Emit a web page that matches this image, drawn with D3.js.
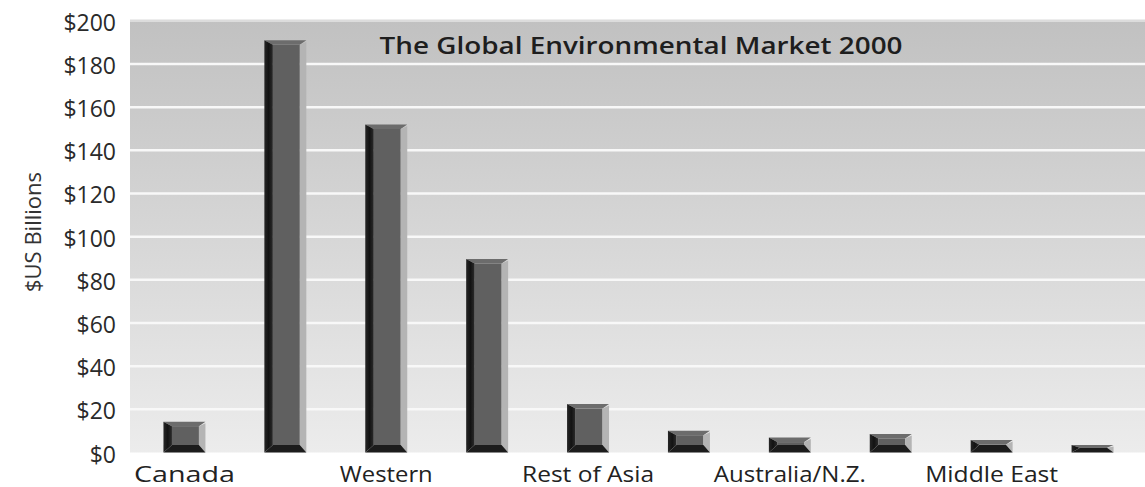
<!DOCTYPE html>
<html><head><meta charset="utf-8">
<script src="https://cdn.jsdelivr.net/npm/d3@7"></script>
<style>body{margin:0;background:#fff}svg{display:block}</style>
</head><body>
<script>
const categories = ["Canada","United States","Western Europe","Japan","Rest of Asia","Latin America","Australia/N.Z.","Eastern Europe","Middle East","Africa"];
const tickLabels = ["Canada","","Western","","Rest of Asia","","Australia/N.Z.","","Middle East",""];
const values = [14.3,191,152,89.7,22.5,10.1,6.9,8.6,5.8,3.5];
const yTicks = [0,20,40,60,80,100,120,140,160,180,200];
const title = "The Global Environmental Market 2000";
const yTitle = "$US Billions";

const W=1145,H=487;
const svg=d3.select("body").append("svg").attr("width",W).attr("height",H);
const plot={l:130,r:1145,t:20.8,b:452.5};
const x=d3.scaleBand().domain(categories).range([134,1143]).paddingInner(0.584).paddingOuter(0.292);
const y=d3.scaleLinear().domain([0,200]).range([plot.b,plot.t]);

const defs=svg.append("defs");
const g=defs.append("linearGradient").attr("id","bg").attr("x1",0).attr("y1",0).attr("x2",0).attr("y2",1);
g.append("stop").attr("offset","0%").attr("stop-color","#c1c1c1");
g.append("stop").attr("offset","100%").attr("stop-color","#ececec");
const lg=defs.append("linearGradient").attr("id","left").attr("x1",0).attr("y1",0).attr("x2",1).attr("y2",0);
lg.append("stop").attr("offset","0%").attr("stop-color","#262626");
lg.append("stop").attr("offset","50%").attr("stop-color","#121212");
lg.append("stop").attr("offset","100%").attr("stop-color","#2c2c2c");

svg.append("rect").attr("x",plot.l).attr("y",plot.t).attr("width",plot.r-plot.l).attr("height",plot.b-plot.t).attr("fill","url(#bg)");

// gridlines
svg.append("g").selectAll("line").data(yTicks.filter(d=>d>0)).join("line")
  .attr("x1",plot.l).attr("x2",plot.r).attr("y1",d=>y(d)).attr("y2",d=>y(d))
  .attr("stroke",d=>d===200?"#dcdcdc":"#f8f8f8").attr("stroke-width",2.5);

// y axis labels
const ya=svg.append("g").attr("transform",`translate(116,0)`)
  .call(d3.axisLeft(y).tickValues(yTicks).tickSize(0).tickPadding(0).tickFormat(d=>"$"+d));
ya.select(".domain").remove();
ya.selectAll("text").attr("font-family","'Open Sans',sans-serif").attr("font-size",23).attr("fill","#2a2a2a").attr("x",0).attr("dy","9.5");

svg.append("text").attr("transform","translate(41,232) rotate(-90)").attr("text-anchor","middle")
  .attr("font-family","'Open Sans',sans-serif").attr("font-size",22).attr("fill","#333").text(yTitle);

// x axis labels
const xa=svg.append("g").attr("transform",`translate(0,${plot.b})`)
  .call(d3.axisBottom(x).tickSize(0).tickPadding(0).tickFormat((d,i)=>tickLabels[i]));
xa.select(".domain").remove();
const widths=[101,0,93,0,132,0,152,0,133,0];
xa.selectAll(".tick text").attr("font-family","'Open Sans',sans-serif").attr("font-size",22).attr("fill","#222")
  .attr("y",0).attr("dy","29.5")
  .each(function(d,i){ if(widths[i]) d3.select(this).attr("textLength",widths[i]).attr("lengthAdjust","spacingAndGlyphs"); });

// bars
const bars=svg.append("g");
categories.forEach((c,i)=>{
  const x0=x(c),x1=x0+x.bandwidth(),y0=y(values[i]),y1=y(0);
  const h=y1-y0;
  let bt=4.5,bb=7.5;
  if(bt+bb>h){const k=h/(bt+bb);bt*=k;bb*=k;}
  const bl=8.5,br=6.5;
  const gg=bars.append("g");
  const P=pts=>pts.map(p=>p.join(",")).join(" ");
  gg.append("polygon").attr("points",P([[x0+bl,y0+bt],[x1-br,y0+bt],[x1-br,y1-bb],[x0+bl,y1-bb]])).attr("fill","#606060");
  gg.append("polygon").attr("points",P([[x0,y0],[x1,y0],[x1-br,y0+bt],[x0+bl,y0+bt]])).attr("fill","#6c6c6c");
  gg.append("polygon").attr("points",P([[x1,y0+1.5],[x1,y1],[x1-br,y1-bb],[x1-br,y0+bt]])).attr("fill","#b4b4b4");
  gg.append("polygon").attr("points",P([[x0,y0],[x0+bl,y0+bt],[x0+bl,y1-bb],[x0,y1]])).attr("fill","url(#left)");
  gg.append("polygon").attr("points",P([[x0,y1],[x0+bl,y1-bb],[x1-br,y1-bb],[x1,y1]])).attr("fill","#1c1c1c");
});

svg.append("text").attr("x",641).attr("y",53.5).attr("text-anchor","middle")
  .attr("font-family","'Open Sans',sans-serif").attr("font-weight",600).attr("font-size",24).attr("fill","#1e1e1e")
  .attr("textLength",523).attr("lengthAdjust","spacingAndGlyphs").text(title);
</script>
</body></html>
